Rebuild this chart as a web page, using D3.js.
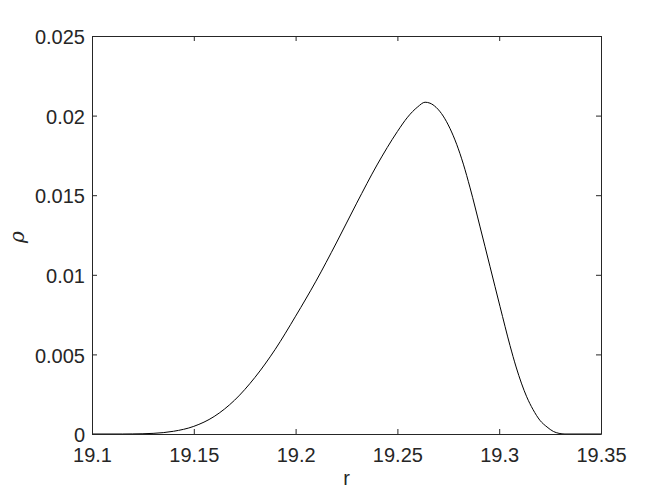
<!DOCTYPE html>
<html><head><meta charset="utf-8">
<script src="https://cdn.jsdelivr.net/npm/d3@7"></script>
<style>body{margin:0;background:#fff}svg{display:block}</style>
</head><body>
<script>
const rValues = [19.10, 19.115, 19.12, 19.13, 19.14, 19.15, 19.16, 19.17, 19.18, 19.19, 19.20, 19.21, 19.22, 19.23, 19.24, 19.25, 19.255, 19.26, 19.2636, 19.2660, 19.2690, 19.2725, 19.2758, 19.2791, 19.2824, 19.2857, 19.2906, 19.2955, 19.3004, 19.3053, 19.3083, 19.3135, 19.3166, 19.3200, 19.3235, 19.3266, 19.3294, 19.3323, 19.35];
const rhoValues = [0, 0, 0.000005, 0.00004, 0.00017, 0.00048, 0.00110, 0.00212, 0.00355, 0.00532, 0.00740, 0.00960, 0.01200, 0.01450, 0.01690, 0.01900, 0.01990, 0.02055, 0.02084, 0.02078, 0.02052, 0.01997, 0.01920, 0.01820, 0.01695, 0.01546, 0.01301, 0.01051, 0.00801, 0.00556, 0.00421, 0.00234, 0.00154, 0.00086, 0.00044, 0.00016, 0.00004, 0, 0];
const xTicks = [19.1, 19.15, 19.2, 19.25, 19.3, 19.35];
const yTicks = [0, 0.005, 0.01, 0.015, 0.02, 0.025];
const xLabels = ["19.1", "19.15", "19.2", "19.25", "19.3", "19.35"];
const yLabels = ["0", "0.005", "0.01", "0.015", "0.02", "0.025"];

const W = 664, H = 498;
const m = {left: 92, right: 63, top: 36, bottom: 64};
const iw = W - m.left - m.right, ih = H - m.top - m.bottom;
const axisColor = "#262626";
const font = "'Liberation Sans', Arial, Helvetica, sans-serif";

const svg = d3.select("body").append("svg").attr("width", W).attr("height", H);
const g = svg.append("g").attr("transform", `translate(${m.left},${m.top})`);

const x = d3.scaleLinear().domain([19.1, 19.35]).range([0, iw]);
const y = d3.scaleLinear().domain([0, 0.025]).range([ih, 0]);

const data = rValues.map((r, i) => ({r, rho: rhoValues[i]}));

g.append("path").datum(data)
  .attr("fill", "none").attr("stroke", "#000").attr("stroke-width", 1)
  .attr("d", d3.line().x(d => x(d.r)).y(d => y(d.rho)).curve(d3.curveMonotoneX));

function styleAxis(sel) {
  sel.selectAll("path").attr("stroke", axisColor);
  sel.selectAll("line").attr("stroke", axisColor);
  sel.selectAll("text").attr("fill", axisColor).style("font-family", font).style("font-size", "20px");
}

const xb = g.append("g").attr("transform", `translate(0,${ih})`)
  .call(d3.axisBottom(x).tickValues(xTicks).tickFormat((d, i) => xLabels[i]).tickSizeInner(-5).tickSizeOuter(0).tickPadding(14));
styleAxis(xb);
const xt = g.append("g")
  .call(d3.axisTop(x).tickValues(xTicks).tickFormat("").tickSizeInner(-5).tickSizeOuter(0));
styleAxis(xt);
const yl = g.append("g")
  .call(d3.axisLeft(y).tickValues(yTicks).tickFormat((d, i) => yLabels[i]).tickSizeInner(-5).tickSizeOuter(0).tickPadding(7));
styleAxis(yl);
yl.selectAll("text").attr("dy", "0.38em");
const yr = g.append("g").attr("transform", `translate(${iw},0)`)
  .call(d3.axisRight(y).tickValues(yTicks).tickFormat("").tickSizeInner(-5).tickSizeOuter(0));
styleAxis(yr);

svg.append("text").attr("x", m.left + iw / 2).attr("y", 485)
  .attr("text-anchor", "middle").attr("fill", axisColor)
  .style("font-family", font).style("font-size", "20px").text("r");

svg.append("text").attr("transform", `translate(24,${m.top + ih / 2 + 2}) rotate(-90)`)
  .attr("text-anchor", "middle").attr("fill", axisColor)
  .style("font-family", "'DejaVu Serif', serif").style("font-style", "italic").style("font-size", "20px").text("ρ");
</script>
</body></html>
